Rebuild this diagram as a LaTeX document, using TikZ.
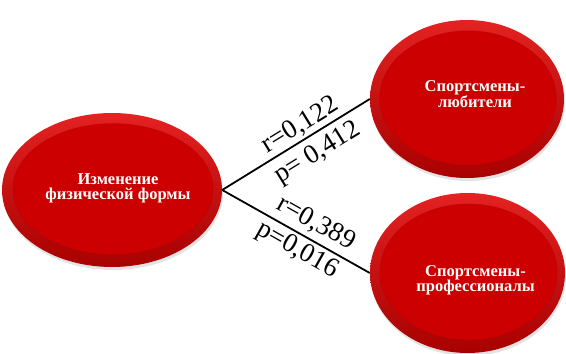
\documentclass[tikz,border=0pt]{standalone}
\usepackage{fontspec}
\setmainfont{Liberation Serif}
\usetikzlibrary{shapes.geometric,shadows}
\definecolor{redtop}{RGB}{228,34,34}
\definecolor{redbot}{RGB}{168,0,0}
\definecolor{redin}{RGB}{204,0,0}
\definecolor{redline}{RGB}{180,0,0}
\tikzset{
  bubble/.style n args={2}{ellipse, inner sep=0pt,
    minimum width=2*#1 pt, minimum height=2*#2 pt,
    top color=redtop, bottom color=redbot,
    drop shadow={opacity=0.22, shadow xshift=1pt, shadow yshift=-3pt},
    path picture={
      \fill[redin] ([xshift=1pt,yshift=1pt]path picture bounding box.center)
        ellipse [x radius={0.91*#1 pt}, y radius={0.85*#2 pt}];
      \draw[redline, line width=0.6pt, opacity=0.5] ([xshift=1pt,yshift=1pt]path picture bounding box.center)
        ellipse [x radius={0.91*#1 pt}, y radius={0.85*#2 pt}];
    }},
  btext/.style={text=white, align=center, inner sep=0pt,
    font=\fontsize{#1}{15}\selectfont\bfseries},
  conn/.style={line width=1.8pt, black},
  lab/.style={sloped, pos=0.58, anchor=center, font=\fontsize{27}{30}\selectfont}
}
\begin{document}
\begin{tikzpicture}[x=1pt,y=1pt]
\useasboundingbox (0,0) rectangle (566,354);
\node[bubble={110}{77}] (src) at (112,164) {};
\node[bubble={97}{79}] (amat) at (467,255) {};
\node[bubble={97.5}{80}] (prof) at (467.5,81) {};
\node[btext=16.5] (srct) at ([xshift=6pt,yshift=2pt]src.center) {Изменение\\физической формы};
\node[btext=16.5] (amatt) at ([xshift=8pt,yshift=5pt]amat.center) {Спортсмены-\\любители};
\node[btext=16.5] (proft) at ([xshift=8pt,yshift=-7pt]prof.center) {Спортсмены-\\профессионалы};
\draw[conn] (src.east) -- node[lab, yshift=14pt] {r=0,122}
  node[lab, yshift=-19pt] {p= 0,412} (amat.west);
\draw[conn] (src.east) -- node[lab, yshift=17pt] {r=0,389}
  node[lab, pos=0.56, yshift=-16pt] {p=0,016} (prof.west);
\end{tikzpicture}
\end{document}
